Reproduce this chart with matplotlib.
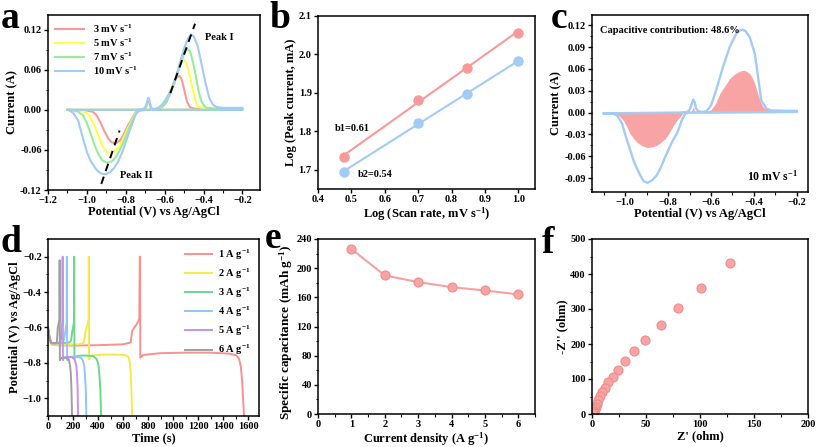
import numpy as np
import matplotlib.pyplot as plt
from matplotlib.ticker import MultipleLocator

plt.rcParams['font.family'] = ['Liberation Serif', 'DejaVu Serif']
plt.rcParams['font.weight'] = 'bold'
plt.rcParams['axes.labelweight'] = 'bold'
plt.rcParams['mathtext.fontset'] = 'custom'
plt.rcParams['mathtext.rm'] = 'Liberation Serif:bold'
plt.rcParams['mathtext.it'] = 'Liberation Serif:bold:italic'
plt.rcParams['mathtext.bf'] = 'Liberation Serif:bold'
plt.rcParams['axes.linewidth'] = 1.1

# ---- panel a: CV at different scan rates ----
scan_labels = ['3 mV s$^{-1}$', '5 mV s$^{-1}$', '7 mV s$^{-1}$', '10 mV s$^{-1}$']
cv_colors = ['#f99a9a', '#ffff4a', '#99ec99', '#a2cbf5']

cv3_ano_v = [-1.10, -0.72, -0.70, -0.69, -0.683, -0.676, -0.67, -0.65, -0.63, -0.61, -0.59, -0.57, -0.555, -0.54, -0.525, -0.515, -0.505, -0.495, -0.485, -0.47, -0.45, -0.40, -0.20]
cv3_ano_i = [0, 0, 0.002, 0.008, 0.014, 0.008, 0.002, 0.001, 0.002, 0.005, 0.012, 0.027, 0.039, 0.048, 0.051, 0.047, 0.037, 0.024, 0.012, 0.004, 0.002, 0.001, 0.001]
cv3_cat_v = [-0.20, -0.70, -0.73, -0.75, -0.77, -0.79, -0.81, -0.83, -0.845, -0.86, -0.875, -0.89, -0.91, -0.93, -0.95, -0.97, -1.00, -1.10]
cv3_cat_i = [0, 0, -0.001, -0.004, -0.014, -0.024, -0.036, -0.046, -0.049, -0.050, -0.048, -0.043, -0.032, -0.019, -0.008, -0.003, -0.001, 0]

cv5_ano_v = [-1.10, -0.72, -0.70, -0.69, -0.683, -0.676, -0.67, -0.65, -0.63, -0.61, -0.59, -0.57, -0.55, -0.53, -0.515, -0.503, -0.49, -0.475, -0.46, -0.445, -0.43, -0.41, -0.38, -0.30, -0.20]
cv5_ano_i = [0, 0, 0.002, 0.009, 0.015, 0.009, 0.002, 0.001, 0.002, 0.006, 0.014, 0.027, 0.043, 0.060, 0.071, 0.075, 0.071, 0.056, 0.036, 0.017, 0.005, 0.003, 0.002, 0.002, 0.002]
cv5_cat_v = [-0.20, -0.70, -0.73, -0.75, -0.77, -0.79, -0.81, -0.83, -0.85, -0.87, -0.885, -0.90, -0.92, -0.94, -0.96, -0.98, -1.00, -1.03, -1.10]
cv5_cat_i = [0, 0, -0.001, -0.005, -0.016, -0.028, -0.041, -0.053, -0.060, -0.064, -0.064, -0.062, -0.054, -0.040, -0.025, -0.012, -0.005, -0.001, 0]

cv7_ano_v = [-1.10, -0.72, -0.70, -0.69, -0.683, -0.676, -0.67, -0.65, -0.63, -0.61, -0.59, -0.57, -0.55, -0.53, -0.51, -0.495, -0.485, -0.47, -0.455, -0.44, -0.425, -0.41, -0.395, -0.38, -0.35, -0.30, -0.20]
cv7_ano_i = [0, 0, 0.002, 0.010, 0.016, 0.010, 0.002, 0.001, 0.002, 0.006, 0.013, 0.025, 0.040, 0.058, 0.076, 0.088, 0.0915, 0.088, 0.072, 0.050, 0.027, 0.012, 0.005, 0.003, 0.002, 0.002, 0.002]
cv7_cat_v = [-0.20, -0.70, -0.73, -0.75, -0.77, -0.79, -0.81, -0.83, -0.85, -0.87, -0.895, -0.92, -0.94, -0.96, -0.98, -1.00, -1.02, -1.05, -1.10]
cv7_cat_i = [0, 0, -0.001, -0.006, -0.018, -0.032, -0.047, -0.060, -0.070, -0.077, -0.079, -0.076, -0.067, -0.053, -0.036, -0.020, -0.008, -0.002, 0]

cv10_ano_v = [-1.10, -0.75, -0.71, -0.70, -0.69, -0.685, -0.68, -0.675, -0.67, -0.66, -0.64, -0.62, -0.60, -0.58, -0.56, -0.54, -0.52, -0.50, -0.48, -0.465, -0.45, -0.43, -0.41, -0.39, -0.37, -0.35, -0.33, -0.30, -0.25, -0.20]
cv10_ano_i = [0, 0, 0.001, 0.004, 0.012, 0.018, 0.016, 0.008, 0.003, 0.001, 0.002, 0.006, 0.013, 0.023, 0.034, 0.052, 0.072, 0.092, 0.107, 0.113, 0.110, 0.095, 0.068, 0.040, 0.017, 0.007, 0.004, 0.003, 0.003, 0.003]
cv10_cat_v = [-0.20, -0.60, -0.70, -0.72, -0.74, -0.755, -0.78, -0.80, -0.815, -0.84, -0.86, -0.88, -0.90, -0.915, -0.93, -0.95, -0.98, -1.00, -1.02, -1.045, -1.07, -1.09, -1.10]
cv10_cat_i = [0, 0, 0, 0, -0.002, -0.011, -0.031, -0.048, -0.061, -0.078, -0.087, -0.093, -0.096, -0.096, -0.095, -0.090, -0.077, -0.063, -0.043, -0.016, -0.005, -0.001, 0]

peak1_guide_v = [-0.571, -0.444]
peak1_guide_i = [0.025, 0.129]
peak2_guide_v = [-0.926, -0.832]
peak2_guide_i = [-0.111, -0.031]

# ---- panel b: log(peak current) vs log(scan rate) ----
log_rate = [0.477, 0.699, 0.845, 1.0]
log_ip1 = [1.733, 1.882, 1.966, 2.057]
log_ip2 = [1.695, 1.821, 1.897, 1.983]

# ---- panel c: capacitive contribution at 10 mV/s ----
c_ano_v = [-1.10, -0.75, -0.71, -0.70, -0.69, -0.683, -0.676, -0.67, -0.66, -0.64, -0.621, -0.60, -0.574, -0.544, -0.513, -0.482, -0.465, -0.454, -0.44, -0.42, -0.396, -0.381, -0.366, -0.342, -0.32, -0.25, -0.20]
c_ano_i = [-0.001, 0.0, 0.001, 0.004, 0.012, 0.018, 0.014, 0.006, 0.002, 0.001, 0.002, 0.010, 0.033, 0.063, 0.090, 0.1086, 0.113, 0.114, 0.112, 0.104, 0.081, 0.049, 0.017, 0.0055, 0.003, 0.0025, 0.0025]
c_cat_v = [-0.20, -0.60, -0.70, -0.72, -0.737, -0.75, -0.76, -0.783, -0.80, -0.814, -0.835, -0.853, -0.875, -0.896, -0.915, -0.93, -0.945, -0.961, -0.975, -0.992, -1.015, -1.035, -1.05, -1.08, -1.10]
c_cat_i = [0.001, 0.0, 0.0, -0.001, -0.011, -0.022, -0.029, -0.041, -0.052, -0.061, -0.076, -0.086, -0.093, -0.0965, -0.094, -0.086, -0.077, -0.066, -0.053, -0.038, -0.015, -0.005, -0.002, -0.001, -0.001]

cap_ano_v = [-0.63, -0.60, -0.58, -0.559, -0.535, -0.513, -0.49, -0.474, -0.46, -0.448, -0.435, -0.42, -0.408, -0.396, -0.385, -0.373, -0.36, -0.35, -0.33, -0.30]
cap_ano_i = [0.0, 0.004, 0.012, 0.026, 0.037, 0.0467, 0.053, 0.0557, 0.0575, 0.058, 0.057, 0.0535, 0.048, 0.040, 0.029, 0.017, 0.009, 0.006, 0.004, 0.002]
cap_bump_v = [-0.695, -0.683, -0.673]
cap_bump_i = [0.0, 0.0076, 0.0]
cap_cat_v = [-1.05, -1.03, -1.008, -0.99, -0.977, -0.96, -0.946, -0.925, -0.899, -0.875, -0.853, -0.835, -0.814, -0.795, -0.776, -0.76, -0.745, -0.73]
cap_cat_i = [0.0, -0.004, -0.011, -0.021, -0.029, -0.036, -0.0405, -0.045, -0.048, -0.047, -0.045, -0.041, -0.036, -0.028, -0.0176, -0.011, -0.006, 0.0]

# ---- panel d: GCD curves ----
gcd_labels = ['1 A g$^{-1}$', '2 A g$^{-1}$', '3 A g$^{-1}$', '4 A g$^{-1}$', '5 A g$^{-1}$', '6 A g$^{-1}$']
gcd_colors = ['#fa9090', '#f5ea4a', '#6fd690', '#92c6f5', '#c592f0', '#a0a0a0']
gcd_t = [
    [0, 10, 25, 60, 200, 400, 600, 660, 672, 685, 710, 729, 733, 735, 737, 745, 760, 900, 1100, 1300, 1450, 1500, 1525, 1540, 1550, 1558, 1565],
    [0, 10, 25, 60, 150, 250, 285, 295, 305, 318, 324, 326, 328, 335, 350, 450, 550, 620, 640, 652, 660, 666, 672],
    [0, 10, 25, 60, 120, 175, 185, 192, 200, 207, 209, 211, 220, 240, 300, 360, 385, 400, 410, 418, 424],
    [0, 10, 25, 60, 105, 125, 135, 143, 149, 151, 153, 160, 180, 220, 260, 278, 290, 298, 303, 306],
    [0, 10, 25, 60, 95, 103, 108, 113, 116, 117, 119, 125, 150, 190, 212, 225, 232, 237, 240],
    [0, 10, 25, 55, 70, 74, 78, 88, 92, 93, 95, 100, 120, 150, 165, 175, 182, 187, 192],
]
gcd_v = [
    [-0.60, -0.65, -0.695, -0.70, -0.702, -0.70, -0.695, -0.685, -0.62, -0.605, -0.58, -0.552, -0.20, -0.20, -0.77, -0.765, -0.755, -0.745, -0.742, -0.742, -0.748, -0.756, -0.775, -0.82, -0.90, -1.0, -1.10],
    [-0.60, -0.65, -0.695, -0.698, -0.698, -0.695, -0.685, -0.64, -0.605, -0.58, -0.55, -0.20, -0.78, -0.77, -0.758, -0.753, -0.753, -0.757, -0.765, -0.79, -0.85, -0.95, -1.10],
    [-0.60, -0.65, -0.685, -0.688, -0.688, -0.684, -0.67, -0.63, -0.60, -0.57, -0.20, -0.775, -0.765, -0.760, -0.758, -0.762, -0.775, -0.80, -0.86, -0.95, -1.10],
    [-0.60, -0.65, -0.688, -0.690, -0.688, -0.675, -0.64, -0.60, -0.57, -0.20, -0.785, -0.77, -0.765, -0.765, -0.77, -0.785, -0.82, -0.90, -0.98, -1.10],
    [-0.60, -0.65, -0.688, -0.690, -0.685, -0.665, -0.63, -0.59, -0.56, -0.20, -0.785, -0.772, -0.766, -0.768, -0.78, -0.81, -0.86, -0.96, -1.10],
    [-0.60, -0.65, -0.688, -0.690, -0.685, -0.65, -0.60, -0.57, -0.56, -0.22, -0.785, -0.775, -0.77, -0.772, -0.78, -0.81, -0.86, -0.94, -1.10],
]

# ---- panel e: specific capacity ----
current_density = [1, 2, 3, 4, 5, 6]
spec_cap = [226.3, 190.1, 180.9, 174.0, 169.4, 164.0]

# ---- panel f: Nyquist ----
z_re = [127.7, 100.9, 80.0, 63.7, 49.5, 38.5, 30.2, 24.0, 19.1, 15.1, 11.7, 9.2, 7.1, 5.5, 4.3, 3.4, 2.5, 1.8, 1.5, 1.2]
z_im = [430.6, 359.3, 302.3, 252.9, 212.0, 178.7, 150.2, 126.4, 106.5, 90.3, 74.1, 61.8, 50.4, 39.0, 29.5, 20.9, 14.3, 8.6, 4.8, 1.9]

pink = '#f8a4a4'
W, H = 817, 447


def make_ax(fig, left, top, right, bottom):
    return fig.add_axes([left / W, 1 - bottom / H, (right - left) / W, (bottom - top) / H])


def style(ax, xmaj, xmin, ymaj, ymin):
    ax.xaxis.set_major_locator(MultipleLocator(xmaj))
    ax.yaxis.set_major_locator(MultipleLocator(ymaj))
    if xmin:
        ax.xaxis.set_minor_locator(MultipleLocator(xmin))
    if ymin:
        ax.yaxis.set_minor_locator(MultipleLocator(ymin))
    ax.tick_params(which='major', direction='out', length=3, width=1.0, labelsize=7.5, pad=1.5)
    ax.tick_params(which='minor', direction='out', length=1.8, width=0.8)
    ax.xaxis.label.set_size(9)
    ax.yaxis.label.set_size(9)
    ax.xaxis.labelpad = 0.5
    ax.yaxis.labelpad = 1.5


fig = plt.figure(figsize=(W / 100, H / 100), dpi=100)

# a
ax = make_ax(fig, 48, 15, 260, 190)
cv_data = [(cv3_ano_v, cv3_ano_i, cv3_cat_v, cv3_cat_i),
           (cv5_ano_v, cv5_ano_i, cv5_cat_v, cv5_cat_i),
           (cv7_ano_v, cv7_ano_i, cv7_cat_v, cv7_cat_i),
           (cv10_ano_v, cv10_ano_i, cv10_cat_v, cv10_cat_i)]
for (av, ai, cvv, ci), col, lab in zip(cv_data, cv_colors, scan_labels):
    ax.plot(av + cvv, ai + ci, color=col, lw=1.5, label=lab)
ax.plot(peak1_guide_v, peak1_guide_i, color='black', lw=1.4, dashes=(4, 3))
ax.plot(peak2_guide_v, peak2_guide_i, color='black', lw=1.4, dashes=(4, 3))
ax.text(-0.395, 0.109, 'Peak I', fontsize=7.5, va='center')
ax.text(-0.832, -0.099, 'Peak II', fontsize=7.5, va='center')
ax.set_xlim(-1.2, -0.11)
ax.set_ylim(-0.12, 0.142)
style(ax, 0.2, 0.1, 0.06, 0.03)
ax.set_xticks([-1.2, -1.0, -0.8, -0.6, -0.4, -0.2])
ax.set_yticks([-0.12, -0.06, 0.0, 0.06, 0.12])
ax.set_yticklabels(['-0.12', '-0.06', '0.00', '0.06', '0.12'])
ax.set_xlabel('Potential (V) vs Ag/AgCl')
ax.set_ylabel('Current (A)')
ax.legend(loc='upper left', frameon=False, fontsize=7.5, handlelength=2.8,
          labelspacing=0.15, borderaxespad=0.3, handletextpad=0.8)

# b
ax = make_ax(fig, 318, 16, 535, 189)
for yv, col in [(log_ip1, '#f99a9a'), (log_ip2, '#a2cbf5')]:
    k, b = np.polyfit(log_rate, yv, 1)
    ax.plot(log_rate, np.polyval([k, b], log_rate), color=col, lw=1.5)
    ax.plot(log_rate, yv, 'o', color=col, ms=7.5, mec='none')
ax.text(0.45, 1.808, 'b1=0.61', fontsize=7.5, va='center')
ax.text(0.52, 1.687, 'b2=0.54', fontsize=7.5, va='center')
ax.set_xlim(0.4, 1.05)
ax.set_ylim(1.65, 2.1)
style(ax, 0.1, None, 0.1, None)
ax.set_xlabel('Log (Scan rate, mV s$^{-1}$)')
ax.set_ylabel('Log (Peak current, mA)')

# c
ax = make_ax(fig, 592, 15, 808, 192)
ax.fill_between(cap_ano_v, cap_ano_i, 0, color=pink, lw=0)
ax.fill_between(cap_bump_v, cap_bump_i, 0, color=pink, lw=0)
ax.fill_between(cap_cat_v, cap_cat_i, 0, color=pink, lw=0)
ax.plot(c_ano_v + c_cat_v, c_ano_i + c_cat_i, color='#a2cbf5', lw=1.7)
ax.text(0.037, 0.91, 'Capacitive contribution: 48.6%', transform=ax.transAxes, fontsize=7.5, va='center')
ax.text(0.955, 0.09, '10 mV s$^{-1}$', transform=ax.transAxes, fontsize=8.5, ha='right', va='center')
ax.set_xlim(-1.155, -0.148)
ax.set_ylim(-0.109, 0.134)
style(ax, 0.2, 0.1, 0.03, 0.015)
ax.set_xticks([-1.0, -0.8, -0.6, -0.4, -0.2])
ax.set_yticks([-0.09, -0.06, -0.03, 0.0, 0.03, 0.06, 0.09, 0.12])
ax.set_yticklabels(['-0.09', '-0.06', '-0.03', '0.00', '0.03', '0.06', '0.09', '0.12'])
ax.set_xlabel('Potential (V) vs Ag/AgCl')
ax.set_ylabel('Current (A)')

# d
ax = make_ax(fig, 48, 239, 259, 416)
for t, v, col, lab in zip(gcd_t, gcd_v, gcd_colors, gcd_labels):
    ax.plot(t, v, color=col, lw=1.4, label=lab)
ax.set_xlim(0, 1685)
ax.set_ylim(-1.1, -0.1)
style(ax, 200, 100, 0.2, 0.1)
ax.set_xlabel('Time (s)')
ax.set_ylabel('Potential (V) vs Ag/AgCl')
ax.legend(loc='upper right', frameon=False, fontsize=7.5, handlelength=2.6,
          labelspacing=0.45, borderaxespad=0.4, handletextpad=0.6)

# e
ax = make_ax(fig, 318, 239, 535, 414)
ax.plot(current_density, spec_cap, '-o', color='#f9a0a0', lw=1.5, ms=6.5,
        mfc=pink, mec='#f08c8c', mew=0.8)
ax.set_xlim(0, 6.5)
ax.set_ylim(0, 240)
style(ax, 1, 0.5, 40, 20)
ax.set_xlabel('Current density (A g$^{-1}$)')
ax.set_ylabel('Specific capacitance (mAh g$^{-1}$)', fontsize=9.5, labelpad=1)
ax.yaxis.label.set_y(0.47)

# f
ax = make_ax(fig, 592, 239, 808, 414)
ax.plot(z_re, z_im, 'o', ls='none', ms=6.5, mfc=pink, mec='#f08c8c', mew=0.8)
ax.set_xlim(0, 200)
ax.set_ylim(0, 500)
style(ax, 50, 25, 100, 50)
ax.set_xlabel("Z' (ohm)")
ax.set_ylabel("-Z'' (ohm)")

# panel letters
for letter, x, y in [('a', 1, 28), ('b', 269, 28), ('c', 551, 28),
                     ('d', 1, 252), ('e', 265, 248), ('f', 542, 253)]:
    fig.text(x / W, 1 - y / H, letter, fontsize=27, fontweight='bold', va='baseline')

fig.savefig('out.png', dpi=100)
